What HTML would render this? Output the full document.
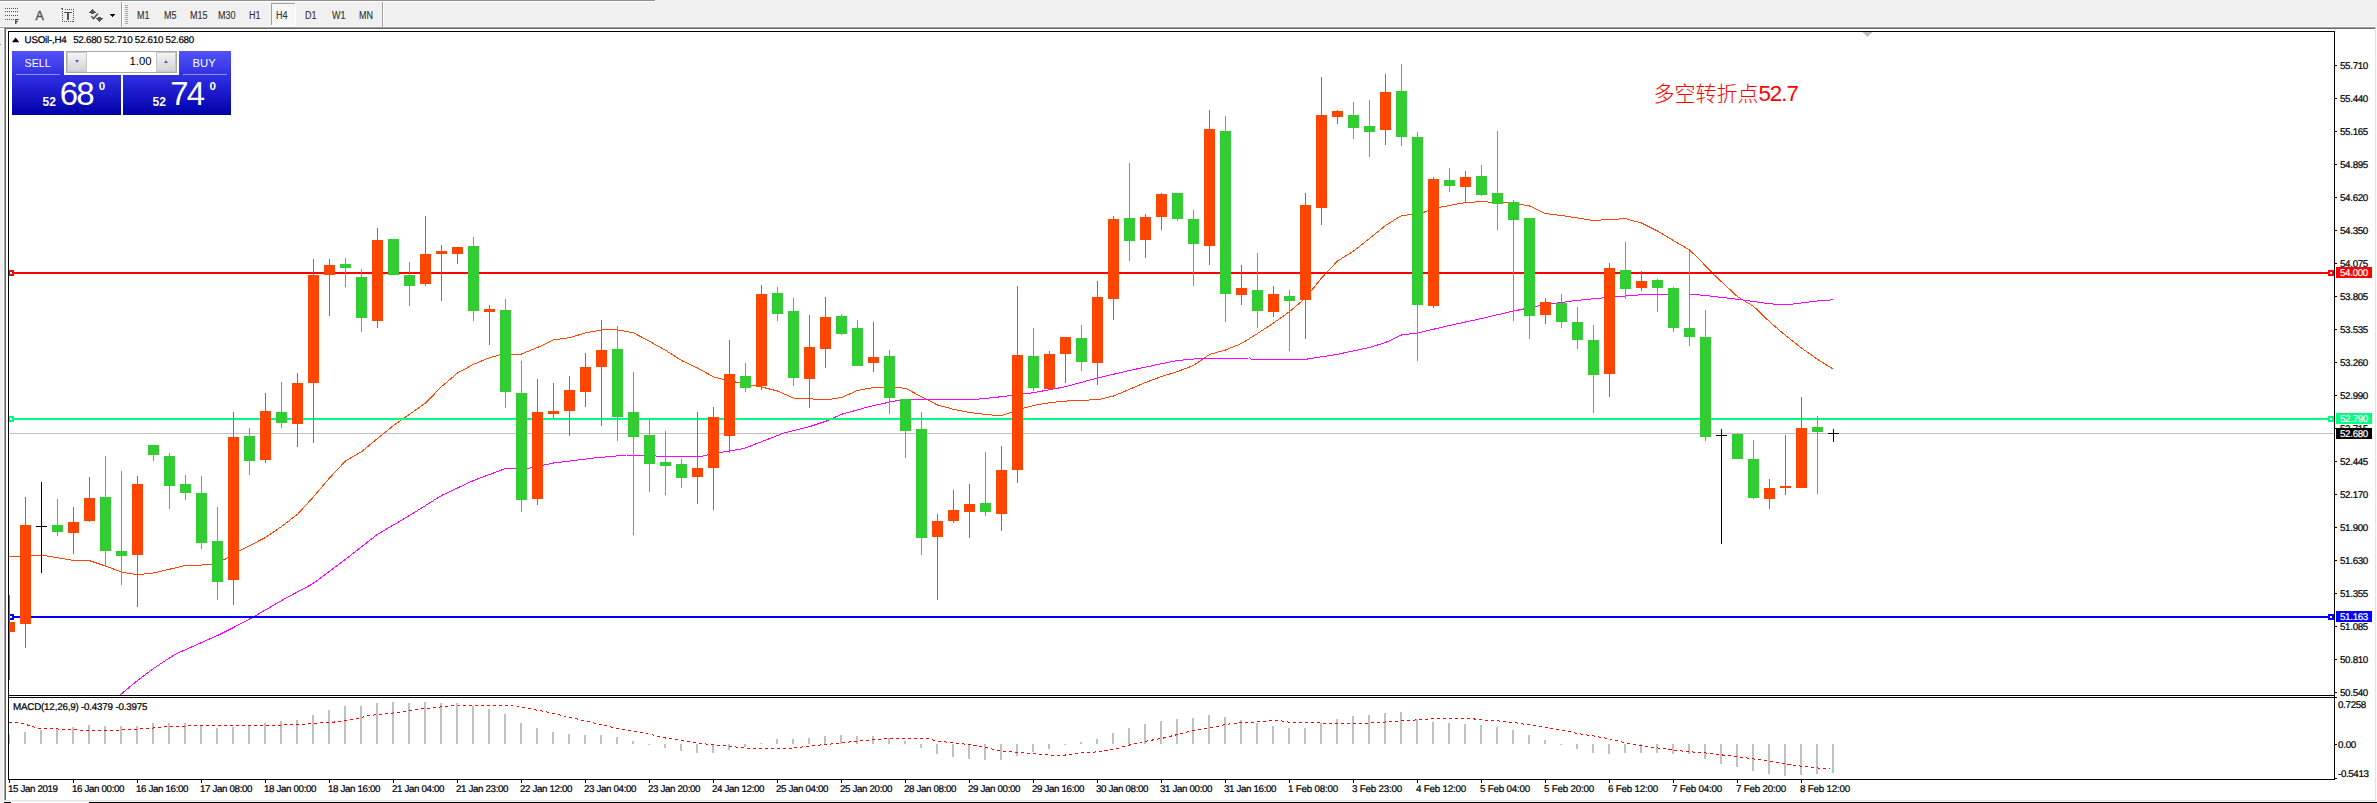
<!DOCTYPE html>
<html lang="zh">
<head>
<meta charset="utf-8">
<title>USOil-,H4</title>
<style>
html,body{margin:0;padding:0;background:#fff;}
body{width:2377px;height:803px;overflow:hidden;position:relative;font-family:"Liberation Sans",sans-serif;}
#wrap{position:absolute;left:0;top:0;width:2377px;height:803px;overflow:hidden;}
.tb{position:absolute;top:0;left:0;height:26px;font-size:10px;color:#333;-webkit-text-stroke:0.12px #333;}
.tb span{position:absolute;top:9.75px;transform:scaleX(0.9);transform-origin:0 0;line-height:12px;white-space:nowrap;}
.panel{position:absolute;left:12px;top:51px;width:219px;height:64px;color:#fff;}
.blk{position:absolute;background:linear-gradient(#5252f8,#2a2ade 45%,#0000a8);}
.big{position:absolute;font-size:33px;line-height:33px;letter-spacing:-1.9px;white-space:nowrap;}
.sm{position:absolute;font-size:12px;font-weight:bold;line-height:12px;}
.sup{position:absolute;font-size:11.6px;font-weight:bold;line-height:11px;}
.lbl{position:absolute;font-size:11.3px;line-height:12px;}
</style>
</head>
<body>
<div id="wrap">
<svg width="2377" height="803" viewBox="0 0 2377 803" shape-rendering="crispEdges" style="position:absolute;left:0;top:0"><rect x="0" y="0" width="2377" height="803" fill="#f0f0f0"/>
<rect x="0" y="0" width="655" height="1" fill="#8f8f8f"/>
<rect x="655" y="0" width="1" height="1" fill="#ffffff"/>
<rect x="0" y="26" width="2377" height="1" fill="#f5f5f5"/>
<rect x="0" y="27" width="2376" height="1" fill="#a0a0a0"/>
<rect x="0" y="28" width="4" height="1" fill="#ffffff"/>
<rect x="4" y="28" width="2371" height="1" fill="#696969"/>
<rect x="3" y="29" width="1" height="774" fill="#f8f8f8"/>
<rect x="6" y="29" width="2369" height="771" fill="#ffffff"/>
<rect x="4" y="28" width="1" height="772" fill="#a0a0a0"/>
<rect x="5" y="28" width="1" height="772" fill="#696969"/>
<rect x="2375" y="28" width="1" height="774" fill="#e3e3e3"/>
<rect x="2376" y="28" width="1" height="775" fill="#fafafa"/>
<rect x="4" y="800" width="2372" height="1" fill="#e3e3e3"/>
<rect x="0" y="801" width="2377" height="1" fill="#f4f4f4"/>
<rect x="4" y="802" width="7" height="1" fill="#000"/>
<rect x="11" y="802" width="78" height="1" fill="#fff"/>
<rect x="89" y="802" width="2288" height="1" fill="#000"/>
<rect x="0" y="44" width="1" height="1" fill="#909090"/>
<rect x="0" y="1" width="656" height="1" fill="#ffffff"/>
<rect x="5" y="8" width="1" height="1" fill="#555555"/>
<rect x="7" y="8" width="1" height="1" fill="#555555"/>
<rect x="9" y="8" width="1" height="1" fill="#555555"/>
<rect x="11" y="8" width="1" height="1" fill="#555555"/>
<rect x="13" y="8" width="1" height="1" fill="#555555"/>
<rect x="15" y="8" width="1" height="1" fill="#555555"/>
<rect x="17" y="8" width="1" height="1" fill="#555555"/>
<rect x="5" y="11" width="1" height="1" fill="#555555"/>
<rect x="7" y="11" width="1" height="1" fill="#555555"/>
<rect x="9" y="11" width="1" height="1" fill="#555555"/>
<rect x="11" y="11" width="1" height="1" fill="#555555"/>
<rect x="13" y="11" width="1" height="1" fill="#555555"/>
<rect x="15" y="11" width="1" height="1" fill="#555555"/>
<rect x="17" y="11" width="1" height="1" fill="#555555"/>
<rect x="5" y="15" width="1" height="1" fill="#555555"/>
<rect x="7" y="15" width="1" height="1" fill="#555555"/>
<rect x="9" y="15" width="1" height="1" fill="#555555"/>
<rect x="11" y="15" width="1" height="1" fill="#555555"/>
<rect x="13" y="15" width="1" height="1" fill="#555555"/>
<rect x="15" y="15" width="1" height="1" fill="#555555"/>
<rect x="17" y="15" width="1" height="1" fill="#555555"/>
<rect x="5" y="19" width="1" height="1" fill="#555555"/>
<rect x="7" y="19" width="1" height="1" fill="#555555"/>
<rect x="9" y="19" width="1" height="1" fill="#555555"/>
<rect x="11" y="19" width="1" height="1" fill="#555555"/>
<rect x="13" y="19" width="1" height="1" fill="#555555"/>
<rect x="15" y="19" width="1" height="5" fill="#555555"/>
<rect x="16" y="19" width="1" height="5" fill="#909090"/>
<rect x="15" y="19" width="4" height="1" fill="#555555"/>
<rect x="15" y="21" width="3" height="1" fill="#555555"/>
<text x="35.6" y="20" font-size="12.4" fill="#555" stroke="#555" stroke-width="0.45" font-family='"Liberation Sans", sans-serif' shape-rendering="auto">A</text>
<rect x="65" y="9" width="1" height="1" fill="#555555"/>
<rect x="67" y="9" width="1" height="1" fill="#555555"/>
<rect x="69" y="9" width="1" height="1" fill="#555555"/>
<rect x="71" y="9" width="1" height="1" fill="#555555"/>
<rect x="73" y="9" width="1" height="1" fill="#555555"/>
<rect x="61" y="8" width="2" height="1" fill="#555555"/>
<rect x="62" y="9" width="1" height="1" fill="#555555"/>
<rect x="62" y="11" width="1" height="1" fill="#555555"/>
<rect x="73" y="11" width="1" height="1" fill="#555555"/>
<rect x="62" y="13" width="1" height="1" fill="#555555"/>
<rect x="73" y="13" width="1" height="1" fill="#555555"/>
<rect x="62" y="15" width="1" height="1" fill="#555555"/>
<rect x="73" y="15" width="1" height="1" fill="#555555"/>
<rect x="62" y="17" width="1" height="1" fill="#555555"/>
<rect x="73" y="17" width="1" height="1" fill="#555555"/>
<rect x="62" y="19" width="1" height="1" fill="#555555"/>
<rect x="73" y="19" width="1" height="1" fill="#555555"/>
<rect x="62" y="21" width="1" height="1" fill="#555555"/>
<rect x="73" y="21" width="1" height="1" fill="#555555"/>
<rect x="62" y="21" width="1" height="1" fill="#555555"/>
<rect x="64" y="21" width="1" height="1" fill="#555555"/>
<rect x="66" y="21" width="1" height="1" fill="#555555"/>
<rect x="68" y="21" width="1" height="1" fill="#555555"/>
<rect x="70" y="21" width="1" height="1" fill="#555555"/>
<rect x="72" y="21" width="1" height="1" fill="#555555"/>
<rect x="64" y="12" width="8" height="1" fill="#555555"/>
<rect x="67" y="12" width="2" height="8" fill="#555555"/>
<rect x="92" y="9" width="1" height="1" fill="#555555"/>
<rect x="91" y="10" width="3" height="1" fill="#555555"/>
<rect x="90" y="11" width="5" height="1" fill="#555555"/>
<rect x="89" y="12" width="7" height="1" fill="#555555"/>
<rect x="91" y="13" width="3" height="1" fill="#555555"/>
<rect x="98" y="17" width="3" height="1" fill="#555555"/>
<rect x="96" y="18" width="7" height="1" fill="#555555"/>
<rect x="97" y="19" width="5" height="1" fill="#555555"/>
<rect x="98" y="20" width="3" height="1" fill="#555555"/>
<rect x="99" y="21" width="1" height="1" fill="#555555"/>
<polyline points="91.2,16.2 93.6,18.6 98,13.4" fill="none" stroke="#555" stroke-width="1.6" shape-rendering="auto"/>
<rect x="110" y="14" width="5" height="1" fill="#000"/>
<rect x="111" y="15" width="3" height="1" fill="#000"/>
<rect x="112" y="16" width="1" height="1" fill="#000"/>
<rect x="121" y="2" width="1" height="25" fill="#a0a0a0"/>
<rect x="122" y="2" width="1" height="25" fill="#ffffff"/>
<rect x="125" y="5" width="3" height="1" fill="#a8a8a8"/>
<rect x="125" y="7" width="3" height="1" fill="#a8a8a8"/>
<rect x="125" y="9" width="3" height="1" fill="#a8a8a8"/>
<rect x="125" y="11" width="3" height="1" fill="#a8a8a8"/>
<rect x="125" y="13" width="3" height="1" fill="#a8a8a8"/>
<rect x="125" y="15" width="3" height="1" fill="#a8a8a8"/>
<rect x="125" y="17" width="3" height="1" fill="#a8a8a8"/>
<rect x="125" y="19" width="3" height="1" fill="#a8a8a8"/>
<rect x="125" y="21" width="3" height="1" fill="#a8a8a8"/>
<rect x="125" y="23" width="3" height="1" fill="#a8a8a8"/>
<rect x="382" y="2" width="1" height="25" fill="#a0a0a0"/>
<rect x="383" y="2" width="1" height="25" fill="#ffffff"/>
<defs><pattern id="chk" width="2" height="2" patternUnits="userSpaceOnUse"><rect width="2" height="2" fill="#f0f0f0"/><rect width="1" height="1" fill="#fff"/><rect x="1" y="1" width="1" height="1" fill="#fff"/></pattern></defs>
<rect x="271" y="3" width="25" height="22" fill="url(#chk)"/>
<rect x="271" y="3" width="25" height="1" fill="#a0a0a0"/>
<rect x="271" y="3" width="1" height="22" fill="#a0a0a0"/>
<rect x="295" y="3" width="1" height="23" fill="#ffffff"/>
<rect x="271" y="25" width="25" height="1" fill="#ffffff"/>
<defs><clipPath id="cm"><rect x="9" y="32" width="2325" height="663"/></clipPath><clipPath id="cd"><rect x="9" y="698" width="2325" height="81"/></clipPath></defs>
<g clip-path="url(#cm)">
<rect x="9" y="433" width="2325" height="1" fill="#c0c0c0"/>
<g transform="translate(0,0.5)">
<polyline points="9.0,556.2 41.5,554.5 73.5,560.0 89.5,560.2 105.5,565.5 121.5,571.5 137.5,574.2 153.5,572.5 185.5,565.0 212.5,564.2 225.0,558.8 240.0,550.0 265.5,537.0 281.5,526.0 297.5,513.8 313.5,496.2 329.5,477.5 345.5,460.5 361.5,451.2 377.5,438.0 393.5,425.0 409.5,413.8 425.5,402.5 441.5,386.2 457.5,372.5 473.5,363.8 489.5,357.2 500.0,354.3 505.5,353.5 521.5,353.5 537.5,347.0 553.5,339.4 569.5,337.2 585.5,332.4 601.5,329.4 617.5,329.4 633.5,332.3 649.5,340.8 665.5,349.7 681.5,360.0 697.5,367.5 713.5,376.3 729.5,380.3 745.5,383.5 761.5,386.5 777.5,390.5 793.5,397.5 809.5,398.2 825.5,399.5 841.5,397.0 857.5,390.0 873.5,387.0 889.5,386.5 905.5,387.8 921.5,396.2 937.5,404.5 953.5,408.8 969.5,412.0 985.5,414.0 1001.5,415.2 1017.5,409.4 1033.5,405.0 1049.5,402.2 1065.5,400.6 1081.5,399.6 1097.5,399.4 1113.5,395.5 1129.5,388.8 1145.5,382.0 1161.5,376.0 1177.5,371.0 1193.5,365.0 1209.5,354.0 1225.5,349.5 1241.5,343.0 1257.5,333.0 1273.5,322.5 1289.5,311.2 1305.5,297.5 1321.5,277.5 1337.5,260.5 1353.5,250.6 1369.5,238.0 1385.5,225.0 1401.5,215.0 1410.0,214.2 1417.5,214.2 1433.5,208.0 1449.5,205.0 1465.5,202.0 1481.5,201.2 1497.5,202.0 1513.5,202.5 1529.5,205.5 1545.5,213.1 1561.5,215.0 1577.5,217.5 1593.5,220.0 1609.5,219.0 1625.5,218.2 1641.5,222.5 1657.5,230.5 1672.5,239.5 1689.5,249.5 1697.5,257.0 1713.5,273.8 1737.5,296.2 1753.5,305.8 1769.5,321.2 1785.5,335.0 1801.5,347.5 1817.5,358.8 1832.5,368.2" fill="none" stroke="#FF4500" stroke-width="1"/>
<polyline points="119.5,695.0 137.5,680.0 153.5,668.0 175.0,653.8 195.0,645.0 217.5,635.0 233.5,627.0 252.5,617.0 281.5,600.0 312.5,583.4 345.5,558.8 377.5,533.8 409.5,515.0 441.5,495.0 473.5,480.0 505.5,468.0 527.5,468.0 553.5,462.5 594.0,457.5 626.5,454.5 644.0,454.5 659.0,455.8 699.0,456.5 713.5,453.0 744.0,448.0 761.5,441.2 784.0,432.5 809.5,426.2 826.5,420.5 841.5,413.8 873.5,405.0 901.5,399.2 976.5,398.8 1001.5,396.2 1033.5,392.2 1065.5,386.2 1097.5,377.5 1129.5,370.0 1161.5,363.2 1177.5,360.0 1200.0,358.0 1250.0,357.5 1251.0,358.5 1307.5,358.5 1337.5,353.8 1369.5,347.0 1385.5,342.0 1401.5,334.5 1417.5,332.5 1449.5,325.0 1481.5,318.0 1513.5,310.5 1545.5,304.1 1577.5,299.8 1609.5,296.8 1641.5,294.2 1673.5,293.5 1689.5,293.5 1705.5,295.0 1737.5,298.8 1769.5,303.2 1785.5,304.5 1801.5,302.5 1817.5,300.5 1833.5,299.2" fill="none" stroke="#FF00FF" stroke-width="1"/>
</g>
</g>
<rect x="9" y="272" width="2325" height="2" fill="#FF0000"/>
<rect x="8" y="270" width="6" height="6" fill="#FF0000"/>
<rect x="10" y="272" width="2" height="2" fill="#fff"/>
<rect x="2328" y="270" width="6" height="6" fill="#FF0000"/>
<rect x="2330" y="272" width="2" height="2" fill="#fff"/>
<rect x="9" y="418" width="2325" height="2" fill="#00FF7F"/>
<rect x="8" y="416" width="6" height="6" fill="#00FF7F"/>
<rect x="10" y="418" width="2" height="2" fill="#fff"/>
<rect x="2328" y="416" width="6" height="6" fill="#00FF7F"/>
<rect x="2330" y="418" width="2" height="2" fill="#fff"/>
<rect x="9" y="616" width="2325" height="2" fill="#0000FF"/>
<rect x="8" y="614" width="6" height="6" fill="#0000FF"/>
<rect x="10" y="616" width="2" height="2" fill="#fff"/>
<rect x="2328" y="614" width="6" height="6" fill="#0000FF"/>
<rect x="2330" y="616" width="2" height="2" fill="#fff"/>
<g clip-path="url(#cm)">
<rect x="9" y="595" width="1" height="85" fill="#FF4500"/>
<rect x="4" y="622" width="11" height="10" fill="#FF4500"/>
<rect x="25" y="497" width="1" height="151" fill="#FF4500"/>
<rect x="20" y="525" width="11" height="99" fill="#FF4500"/>
<rect x="41" y="482" width="1" height="91" fill="#000"/>
<rect x="36" y="526" width="11" height="1" fill="#000"/>
<rect x="57" y="499" width="1" height="37" fill="#32CD32"/>
<rect x="52" y="525" width="11" height="7" fill="#32CD32"/>
<rect x="73" y="507" width="1" height="47" fill="#FF4500"/>
<rect x="68" y="522" width="11" height="11" fill="#FF4500"/>
<rect x="89" y="477" width="1" height="45" fill="#FF4500"/>
<rect x="84" y="498" width="11" height="23" fill="#FF4500"/>
<rect x="105" y="456" width="1" height="111" fill="#32CD32"/>
<rect x="100" y="497" width="11" height="54" fill="#32CD32"/>
<rect x="121" y="471" width="1" height="114" fill="#32CD32"/>
<rect x="116" y="551" width="11" height="5" fill="#32CD32"/>
<rect x="137" y="476" width="1" height="131" fill="#FF4500"/>
<rect x="132" y="484" width="11" height="71" fill="#FF4500"/>
<rect x="153" y="445" width="1" height="16" fill="#32CD32"/>
<rect x="148" y="445" width="11" height="10" fill="#32CD32"/>
<rect x="169" y="453" width="1" height="56" fill="#32CD32"/>
<rect x="164" y="456" width="11" height="30" fill="#32CD32"/>
<rect x="185" y="475" width="1" height="25" fill="#32CD32"/>
<rect x="180" y="484" width="11" height="9" fill="#32CD32"/>
<rect x="201" y="476" width="1" height="73" fill="#32CD32"/>
<rect x="196" y="493" width="11" height="50" fill="#32CD32"/>
<rect x="217" y="507" width="1" height="93" fill="#32CD32"/>
<rect x="212" y="541" width="11" height="41" fill="#32CD32"/>
<rect x="233" y="412" width="1" height="193" fill="#FF4500"/>
<rect x="228" y="437" width="11" height="143" fill="#FF4500"/>
<rect x="249" y="428" width="1" height="47" fill="#32CD32"/>
<rect x="244" y="436" width="11" height="25" fill="#32CD32"/>
<rect x="265" y="393" width="1" height="70" fill="#FF4500"/>
<rect x="260" y="411" width="11" height="49" fill="#FF4500"/>
<rect x="281" y="382" width="1" height="46" fill="#32CD32"/>
<rect x="276" y="412" width="11" height="11" fill="#32CD32"/>
<rect x="297" y="373" width="1" height="74" fill="#FF4500"/>
<rect x="292" y="383" width="11" height="41" fill="#FF4500"/>
<rect x="313" y="259" width="1" height="184" fill="#FF4500"/>
<rect x="308" y="275" width="11" height="108" fill="#FF4500"/>
<rect x="329" y="259" width="1" height="57" fill="#FF4500"/>
<rect x="324" y="265" width="11" height="10" fill="#FF4500"/>
<rect x="345" y="258" width="1" height="29" fill="#32CD32"/>
<rect x="340" y="264" width="11" height="4" fill="#32CD32"/>
<rect x="361" y="269" width="1" height="63" fill="#32CD32"/>
<rect x="356" y="277" width="11" height="41" fill="#32CD32"/>
<rect x="377" y="228" width="1" height="100" fill="#FF4500"/>
<rect x="372" y="240" width="11" height="81" fill="#FF4500"/>
<rect x="393" y="239" width="1" height="36" fill="#32CD32"/>
<rect x="388" y="239" width="11" height="36" fill="#32CD32"/>
<rect x="409" y="262" width="1" height="44" fill="#32CD32"/>
<rect x="404" y="275" width="11" height="11" fill="#32CD32"/>
<rect x="425" y="216" width="1" height="70" fill="#FF4500"/>
<rect x="420" y="254" width="11" height="30" fill="#FF4500"/>
<rect x="441" y="245" width="1" height="56" fill="#FF4500"/>
<rect x="436" y="251" width="11" height="3" fill="#FF4500"/>
<rect x="457" y="247" width="1" height="17" fill="#FF4500"/>
<rect x="452" y="247" width="11" height="7" fill="#FF4500"/>
<rect x="473" y="237" width="1" height="84" fill="#32CD32"/>
<rect x="468" y="246" width="11" height="65" fill="#32CD32"/>
<rect x="489" y="305" width="1" height="40" fill="#FF4500"/>
<rect x="484" y="309" width="11" height="3" fill="#FF4500"/>
<rect x="505" y="299" width="1" height="109" fill="#32CD32"/>
<rect x="500" y="310" width="11" height="82" fill="#32CD32"/>
<rect x="521" y="361" width="1" height="151" fill="#32CD32"/>
<rect x="516" y="393" width="11" height="107" fill="#32CD32"/>
<rect x="537" y="379" width="1" height="126" fill="#FF4500"/>
<rect x="532" y="412" width="11" height="87" fill="#FF4500"/>
<rect x="553" y="383" width="1" height="35" fill="#FF4500"/>
<rect x="548" y="411" width="11" height="3" fill="#FF4500"/>
<rect x="569" y="376" width="1" height="60" fill="#FF4500"/>
<rect x="564" y="390" width="11" height="21" fill="#FF4500"/>
<rect x="585" y="353" width="1" height="54" fill="#FF4500"/>
<rect x="580" y="367" width="11" height="25" fill="#FF4500"/>
<rect x="601" y="320" width="1" height="106" fill="#FF4500"/>
<rect x="596" y="350" width="11" height="17" fill="#FF4500"/>
<rect x="617" y="326" width="1" height="115" fill="#32CD32"/>
<rect x="612" y="349" width="11" height="68" fill="#32CD32"/>
<rect x="633" y="372" width="1" height="163" fill="#32CD32"/>
<rect x="628" y="412" width="11" height="25" fill="#32CD32"/>
<rect x="649" y="420" width="1" height="72" fill="#32CD32"/>
<rect x="644" y="435" width="11" height="29" fill="#32CD32"/>
<rect x="665" y="431" width="1" height="64" fill="#32CD32"/>
<rect x="660" y="462" width="11" height="4" fill="#32CD32"/>
<rect x="681" y="459" width="1" height="29" fill="#32CD32"/>
<rect x="676" y="464" width="11" height="14" fill="#32CD32"/>
<rect x="697" y="412" width="1" height="92" fill="#FF4500"/>
<rect x="692" y="468" width="11" height="9" fill="#FF4500"/>
<rect x="713" y="407" width="1" height="103" fill="#FF4500"/>
<rect x="708" y="417" width="11" height="51" fill="#FF4500"/>
<rect x="729" y="340" width="1" height="113" fill="#FF4500"/>
<rect x="724" y="374" width="11" height="62" fill="#FF4500"/>
<rect x="745" y="363" width="1" height="29" fill="#32CD32"/>
<rect x="740" y="376" width="11" height="12" fill="#32CD32"/>
<rect x="761" y="285" width="1" height="105" fill="#FF4500"/>
<rect x="756" y="294" width="11" height="92" fill="#FF4500"/>
<rect x="777" y="287" width="1" height="34" fill="#32CD32"/>
<rect x="772" y="293" width="11" height="21" fill="#32CD32"/>
<rect x="793" y="298" width="1" height="88" fill="#32CD32"/>
<rect x="788" y="311" width="11" height="67" fill="#32CD32"/>
<rect x="809" y="315" width="1" height="93" fill="#FF4500"/>
<rect x="804" y="347" width="11" height="32" fill="#FF4500"/>
<rect x="825" y="297" width="1" height="71" fill="#FF4500"/>
<rect x="820" y="317" width="11" height="32" fill="#FF4500"/>
<rect x="841" y="314" width="1" height="21" fill="#32CD32"/>
<rect x="836" y="316" width="11" height="18" fill="#32CD32"/>
<rect x="857" y="320" width="1" height="46" fill="#32CD32"/>
<rect x="852" y="328" width="11" height="38" fill="#32CD32"/>
<rect x="873" y="322" width="1" height="50" fill="#FF4500"/>
<rect x="868" y="357" width="11" height="6" fill="#FF4500"/>
<rect x="889" y="350" width="1" height="64" fill="#32CD32"/>
<rect x="884" y="356" width="11" height="42" fill="#32CD32"/>
<rect x="905" y="399" width="1" height="59" fill="#32CD32"/>
<rect x="900" y="399" width="11" height="32" fill="#32CD32"/>
<rect x="921" y="412" width="1" height="143" fill="#32CD32"/>
<rect x="916" y="429" width="11" height="109" fill="#32CD32"/>
<rect x="937" y="514" width="1" height="86" fill="#FF4500"/>
<rect x="932" y="521" width="11" height="16" fill="#FF4500"/>
<rect x="953" y="490" width="1" height="33" fill="#FF4500"/>
<rect x="948" y="510" width="11" height="11" fill="#FF4500"/>
<rect x="969" y="484" width="1" height="54" fill="#FF4500"/>
<rect x="964" y="504" width="11" height="8" fill="#FF4500"/>
<rect x="985" y="452" width="1" height="64" fill="#32CD32"/>
<rect x="980" y="503" width="11" height="9" fill="#32CD32"/>
<rect x="1001" y="446" width="1" height="85" fill="#FF4500"/>
<rect x="996" y="470" width="11" height="44" fill="#FF4500"/>
<rect x="1017" y="286" width="1" height="197" fill="#FF4500"/>
<rect x="1012" y="355" width="11" height="115" fill="#FF4500"/>
<rect x="1033" y="328" width="1" height="63" fill="#32CD32"/>
<rect x="1028" y="356" width="11" height="32" fill="#32CD32"/>
<rect x="1049" y="351" width="1" height="39" fill="#FF4500"/>
<rect x="1044" y="354" width="11" height="35" fill="#FF4500"/>
<rect x="1065" y="337" width="1" height="46" fill="#FF4500"/>
<rect x="1060" y="337" width="11" height="17" fill="#FF4500"/>
<rect x="1081" y="325" width="1" height="46" fill="#32CD32"/>
<rect x="1076" y="338" width="11" height="24" fill="#32CD32"/>
<rect x="1097" y="281" width="1" height="104" fill="#FF4500"/>
<rect x="1092" y="297" width="11" height="66" fill="#FF4500"/>
<rect x="1113" y="216" width="1" height="104" fill="#FF4500"/>
<rect x="1108" y="219" width="11" height="80" fill="#FF4500"/>
<rect x="1129" y="163" width="1" height="98" fill="#32CD32"/>
<rect x="1124" y="218" width="11" height="23" fill="#32CD32"/>
<rect x="1145" y="214" width="1" height="44" fill="#FF4500"/>
<rect x="1140" y="217" width="11" height="23" fill="#FF4500"/>
<rect x="1161" y="193" width="1" height="37" fill="#FF4500"/>
<rect x="1156" y="194" width="11" height="23" fill="#FF4500"/>
<rect x="1177" y="193" width="1" height="28" fill="#32CD32"/>
<rect x="1172" y="193" width="11" height="26" fill="#32CD32"/>
<rect x="1193" y="210" width="1" height="76" fill="#32CD32"/>
<rect x="1188" y="219" width="11" height="25" fill="#32CD32"/>
<rect x="1209" y="110" width="1" height="155" fill="#FF4500"/>
<rect x="1204" y="129" width="11" height="117" fill="#FF4500"/>
<rect x="1225" y="116" width="1" height="206" fill="#32CD32"/>
<rect x="1220" y="131" width="11" height="163" fill="#32CD32"/>
<rect x="1241" y="265" width="1" height="40" fill="#FF4500"/>
<rect x="1236" y="288" width="11" height="7" fill="#FF4500"/>
<rect x="1257" y="253" width="1" height="75" fill="#32CD32"/>
<rect x="1252" y="290" width="11" height="21" fill="#32CD32"/>
<rect x="1273" y="286" width="1" height="31" fill="#FF4500"/>
<rect x="1268" y="294" width="11" height="18" fill="#FF4500"/>
<rect x="1289" y="290" width="1" height="61" fill="#32CD32"/>
<rect x="1284" y="296" width="11" height="5" fill="#32CD32"/>
<rect x="1305" y="193" width="1" height="146" fill="#FF4500"/>
<rect x="1300" y="205" width="11" height="95" fill="#FF4500"/>
<rect x="1321" y="77" width="1" height="148" fill="#FF4500"/>
<rect x="1316" y="115" width="11" height="93" fill="#FF4500"/>
<rect x="1337" y="110" width="1" height="14" fill="#FF4500"/>
<rect x="1332" y="111" width="11" height="6" fill="#FF4500"/>
<rect x="1353" y="102" width="1" height="37" fill="#32CD32"/>
<rect x="1348" y="115" width="11" height="13" fill="#32CD32"/>
<rect x="1369" y="100" width="1" height="57" fill="#32CD32"/>
<rect x="1364" y="126" width="11" height="6" fill="#32CD32"/>
<rect x="1385" y="74" width="1" height="71" fill="#FF4500"/>
<rect x="1380" y="92" width="11" height="38" fill="#FF4500"/>
<rect x="1401" y="64" width="1" height="82" fill="#32CD32"/>
<rect x="1396" y="91" width="11" height="46" fill="#32CD32"/>
<rect x="1417" y="132" width="1" height="229" fill="#32CD32"/>
<rect x="1412" y="137" width="11" height="168" fill="#32CD32"/>
<rect x="1433" y="177" width="1" height="131" fill="#FF4500"/>
<rect x="1428" y="179" width="11" height="127" fill="#FF4500"/>
<rect x="1449" y="168" width="1" height="24" fill="#32CD32"/>
<rect x="1444" y="180" width="11" height="6" fill="#32CD32"/>
<rect x="1465" y="171" width="1" height="31" fill="#FF4500"/>
<rect x="1460" y="177" width="11" height="10" fill="#FF4500"/>
<rect x="1481" y="165" width="1" height="31" fill="#32CD32"/>
<rect x="1476" y="176" width="11" height="19" fill="#32CD32"/>
<rect x="1497" y="131" width="1" height="99" fill="#32CD32"/>
<rect x="1492" y="193" width="11" height="11" fill="#32CD32"/>
<rect x="1513" y="200" width="1" height="121" fill="#32CD32"/>
<rect x="1508" y="202" width="11" height="18" fill="#32CD32"/>
<rect x="1529" y="218" width="1" height="121" fill="#32CD32"/>
<rect x="1524" y="218" width="11" height="98" fill="#32CD32"/>
<rect x="1545" y="298" width="1" height="26" fill="#FF4500"/>
<rect x="1540" y="302" width="11" height="13" fill="#FF4500"/>
<rect x="1561" y="294" width="1" height="34" fill="#32CD32"/>
<rect x="1556" y="303" width="11" height="19" fill="#32CD32"/>
<rect x="1577" y="307" width="1" height="42" fill="#32CD32"/>
<rect x="1572" y="322" width="11" height="18" fill="#32CD32"/>
<rect x="1593" y="325" width="1" height="88" fill="#32CD32"/>
<rect x="1588" y="340" width="11" height="35" fill="#32CD32"/>
<rect x="1609" y="263" width="1" height="134" fill="#FF4500"/>
<rect x="1604" y="268" width="11" height="106" fill="#FF4500"/>
<rect x="1625" y="242" width="1" height="57" fill="#32CD32"/>
<rect x="1620" y="270" width="11" height="19" fill="#32CD32"/>
<rect x="1641" y="271" width="1" height="20" fill="#FF4500"/>
<rect x="1636" y="281" width="11" height="7" fill="#FF4500"/>
<rect x="1657" y="279" width="1" height="33" fill="#32CD32"/>
<rect x="1652" y="280" width="11" height="8" fill="#32CD32"/>
<rect x="1673" y="287" width="1" height="45" fill="#32CD32"/>
<rect x="1668" y="288" width="11" height="40" fill="#32CD32"/>
<rect x="1689" y="251" width="1" height="95" fill="#32CD32"/>
<rect x="1684" y="328" width="11" height="9" fill="#32CD32"/>
<rect x="1705" y="310" width="1" height="131" fill="#32CD32"/>
<rect x="1700" y="337" width="11" height="100" fill="#32CD32"/>
<rect x="1721" y="429" width="1" height="115" fill="#000"/>
<rect x="1716" y="435" width="11" height="1" fill="#000"/>
<rect x="1737" y="433" width="1" height="26" fill="#32CD32"/>
<rect x="1732" y="434" width="11" height="25" fill="#32CD32"/>
<rect x="1753" y="440" width="1" height="59" fill="#32CD32"/>
<rect x="1748" y="459" width="11" height="39" fill="#32CD32"/>
<rect x="1769" y="479" width="1" height="30" fill="#FF4500"/>
<rect x="1764" y="488" width="11" height="11" fill="#FF4500"/>
<rect x="1785" y="435" width="1" height="60" fill="#FF4500"/>
<rect x="1780" y="486" width="11" height="2" fill="#FF4500"/>
<rect x="1801" y="397" width="1" height="91" fill="#FF4500"/>
<rect x="1796" y="428" width="11" height="60" fill="#FF4500"/>
<rect x="1817" y="416" width="1" height="78" fill="#32CD32"/>
<rect x="1812" y="427" width="11" height="5" fill="#32CD32"/>
<rect x="1833" y="429" width="1" height="13" fill="#000"/>
<rect x="1828" y="433" width="11" height="1" fill="#000"/>
</g>
<g clip-path="url(#cd)">
<rect x="8" y="734" width="2" height="10" fill="#c0c0c0"/>
<rect x="24" y="732" width="2" height="12" fill="#c0c0c0"/>
<rect x="40" y="730" width="2" height="14" fill="#c0c0c0"/>
<rect x="56" y="728" width="2" height="16" fill="#c0c0c0"/>
<rect x="72" y="727" width="2" height="17" fill="#c0c0c0"/>
<rect x="88" y="725" width="2" height="19" fill="#c0c0c0"/>
<rect x="104" y="726" width="2" height="18" fill="#c0c0c0"/>
<rect x="120" y="726" width="2" height="18" fill="#c0c0c0"/>
<rect x="136" y="726" width="2" height="18" fill="#c0c0c0"/>
<rect x="152" y="723" width="2" height="21" fill="#c0c0c0"/>
<rect x="168" y="723" width="2" height="21" fill="#c0c0c0"/>
<rect x="184" y="723" width="2" height="21" fill="#c0c0c0"/>
<rect x="200" y="725" width="2" height="19" fill="#c0c0c0"/>
<rect x="216" y="728" width="2" height="16" fill="#c0c0c0"/>
<rect x="232" y="727" width="2" height="17" fill="#c0c0c0"/>
<rect x="248" y="725" width="2" height="19" fill="#c0c0c0"/>
<rect x="264" y="723" width="2" height="21" fill="#c0c0c0"/>
<rect x="280" y="721" width="2" height="23" fill="#c0c0c0"/>
<rect x="296" y="720" width="2" height="24" fill="#c0c0c0"/>
<rect x="312" y="715" width="2" height="29" fill="#c0c0c0"/>
<rect x="328" y="710" width="2" height="34" fill="#c0c0c0"/>
<rect x="344" y="706" width="2" height="38" fill="#c0c0c0"/>
<rect x="360" y="706" width="2" height="38" fill="#c0c0c0"/>
<rect x="376" y="703" width="2" height="41" fill="#c0c0c0"/>
<rect x="392" y="702" width="2" height="42" fill="#c0c0c0"/>
<rect x="408" y="703" width="2" height="41" fill="#c0c0c0"/>
<rect x="424" y="702" width="2" height="42" fill="#c0c0c0"/>
<rect x="440" y="703" width="2" height="41" fill="#c0c0c0"/>
<rect x="456" y="703" width="2" height="41" fill="#c0c0c0"/>
<rect x="472" y="706" width="2" height="38" fill="#c0c0c0"/>
<rect x="488" y="709" width="2" height="35" fill="#c0c0c0"/>
<rect x="504" y="714" width="2" height="30" fill="#c0c0c0"/>
<rect x="520" y="723" width="2" height="21" fill="#c0c0c0"/>
<rect x="536" y="728" width="2" height="16" fill="#c0c0c0"/>
<rect x="552" y="732" width="2" height="12" fill="#c0c0c0"/>
<rect x="568" y="734" width="2" height="10" fill="#c0c0c0"/>
<rect x="584" y="735" width="2" height="9" fill="#c0c0c0"/>
<rect x="600" y="735" width="2" height="9" fill="#c0c0c0"/>
<rect x="616" y="737" width="2" height="7" fill="#c0c0c0"/>
<rect x="632" y="741" width="2" height="3" fill="#c0c0c0"/>
<rect x="648" y="744" width="2" height="1" fill="#c0c0c0"/>
<rect x="664" y="744" width="2" height="4" fill="#c0c0c0"/>
<rect x="680" y="744" width="2" height="7" fill="#c0c0c0"/>
<rect x="696" y="744" width="2" height="9" fill="#c0c0c0"/>
<rect x="712" y="744" width="2" height="9" fill="#c0c0c0"/>
<rect x="728" y="744" width="2" height="6" fill="#c0c0c0"/>
<rect x="744" y="744" width="2" height="3" fill="#c0c0c0"/>
<rect x="760" y="743" width="2" height="1" fill="#c0c0c0"/>
<rect x="776" y="739" width="2" height="5" fill="#c0c0c0"/>
<rect x="792" y="739" width="2" height="5" fill="#c0c0c0"/>
<rect x="808" y="738" width="2" height="6" fill="#c0c0c0"/>
<rect x="824" y="736" width="2" height="8" fill="#c0c0c0"/>
<rect x="840" y="735" width="2" height="9" fill="#c0c0c0"/>
<rect x="856" y="736" width="2" height="8" fill="#c0c0c0"/>
<rect x="872" y="736" width="2" height="8" fill="#c0c0c0"/>
<rect x="888" y="738" width="2" height="6" fill="#c0c0c0"/>
<rect x="904" y="741" width="2" height="3" fill="#c0c0c0"/>
<rect x="920" y="744" width="2" height="4" fill="#c0c0c0"/>
<rect x="936" y="744" width="2" height="10" fill="#c0c0c0"/>
<rect x="952" y="744" width="2" height="13" fill="#c0c0c0"/>
<rect x="968" y="744" width="2" height="15" fill="#c0c0c0"/>
<rect x="984" y="744" width="2" height="16" fill="#c0c0c0"/>
<rect x="1000" y="744" width="2" height="16" fill="#c0c0c0"/>
<rect x="1016" y="744" width="2" height="12" fill="#c0c0c0"/>
<rect x="1032" y="744" width="2" height="8" fill="#c0c0c0"/>
<rect x="1048" y="744" width="2" height="5" fill="#c0c0c0"/>
<rect x="1064" y="744" width="2" height="1" fill="#c0c0c0"/>
<rect x="1080" y="742" width="2" height="2" fill="#c0c0c0"/>
<rect x="1096" y="739" width="2" height="5" fill="#c0c0c0"/>
<rect x="1112" y="733" width="2" height="11" fill="#c0c0c0"/>
<rect x="1128" y="728" width="2" height="16" fill="#c0c0c0"/>
<rect x="1144" y="724" width="2" height="20" fill="#c0c0c0"/>
<rect x="1160" y="721" width="2" height="23" fill="#c0c0c0"/>
<rect x="1176" y="719" width="2" height="25" fill="#c0c0c0"/>
<rect x="1192" y="718" width="2" height="26" fill="#c0c0c0"/>
<rect x="1208" y="715" width="2" height="29" fill="#c0c0c0"/>
<rect x="1224" y="717" width="2" height="27" fill="#c0c0c0"/>
<rect x="1240" y="720" width="2" height="24" fill="#c0c0c0"/>
<rect x="1256" y="723" width="2" height="21" fill="#c0c0c0"/>
<rect x="1272" y="726" width="2" height="18" fill="#c0c0c0"/>
<rect x="1288" y="728" width="2" height="16" fill="#c0c0c0"/>
<rect x="1304" y="728" width="2" height="16" fill="#c0c0c0"/>
<rect x="1320" y="723" width="2" height="21" fill="#c0c0c0"/>
<rect x="1336" y="719" width="2" height="25" fill="#c0c0c0"/>
<rect x="1352" y="716" width="2" height="28" fill="#c0c0c0"/>
<rect x="1368" y="715" width="2" height="29" fill="#c0c0c0"/>
<rect x="1384" y="713" width="2" height="31" fill="#c0c0c0"/>
<rect x="1400" y="712" width="2" height="32" fill="#c0c0c0"/>
<rect x="1416" y="719" width="2" height="25" fill="#c0c0c0"/>
<rect x="1432" y="722" width="2" height="22" fill="#c0c0c0"/>
<rect x="1448" y="723" width="2" height="21" fill="#c0c0c0"/>
<rect x="1464" y="724" width="2" height="20" fill="#c0c0c0"/>
<rect x="1480" y="725" width="2" height="19" fill="#c0c0c0"/>
<rect x="1496" y="727" width="2" height="17" fill="#c0c0c0"/>
<rect x="1512" y="730" width="2" height="14" fill="#c0c0c0"/>
<rect x="1528" y="735" width="2" height="9" fill="#c0c0c0"/>
<rect x="1544" y="740" width="2" height="4" fill="#c0c0c0"/>
<rect x="1560" y="744" width="2" height="1" fill="#c0c0c0"/>
<rect x="1576" y="744" width="2" height="5" fill="#c0c0c0"/>
<rect x="1592" y="744" width="2" height="9" fill="#c0c0c0"/>
<rect x="1608" y="744" width="2" height="10" fill="#c0c0c0"/>
<rect x="1624" y="744" width="2" height="9" fill="#c0c0c0"/>
<rect x="1640" y="744" width="2" height="9" fill="#c0c0c0"/>
<rect x="1656" y="744" width="2" height="9" fill="#c0c0c0"/>
<rect x="1672" y="744" width="2" height="10" fill="#c0c0c0"/>
<rect x="1688" y="744" width="2" height="10" fill="#c0c0c0"/>
<rect x="1704" y="744" width="2" height="15" fill="#c0c0c0"/>
<rect x="1720" y="744" width="2" height="20" fill="#c0c0c0"/>
<rect x="1736" y="744" width="2" height="23" fill="#c0c0c0"/>
<rect x="1752" y="744" width="2" height="27" fill="#c0c0c0"/>
<rect x="1768" y="744" width="2" height="30" fill="#c0c0c0"/>
<rect x="1784" y="744" width="2" height="32" fill="#c0c0c0"/>
<rect x="1800" y="744" width="2" height="31" fill="#c0c0c0"/>
<rect x="1816" y="744" width="2" height="30" fill="#c0c0c0"/>
<rect x="1832" y="744" width="2" height="29" fill="#c0c0c0"/>
<polyline points="9.0,722.0 22.5,723.5 37.5,728.0 57.5,729.0 89.5,730.5 121.5,730.0 137.5,729.2 153.5,728.0 169.5,726.2 201.5,725.8 250.0,725.8 265.5,725.5 297.5,724.5 313.5,723.5 337.5,721.8 353.5,719.2 369.5,715.5 393.5,713.0 409.5,710.5 425.5,708.5 441.5,706.8 457.5,705.0 507.5,705.0 525.0,708.0 550.0,712.5 570.0,717.5 594.0,723.0 617.5,728.5 644.0,733.0 665.5,738.0 697.5,743.0 713.5,744.8 745.5,748.0 794.0,748.0 809.5,746.0 825.5,744.5 841.5,743.0 857.5,741.0 873.5,739.8 884.0,738.8 929.0,739.0 937.5,741.0 953.5,743.0 969.5,744.5 985.5,747.5 1001.5,751.0 1017.5,752.5 1033.5,753.8 1049.5,755.0 1065.5,755.0 1081.5,753.0 1097.5,751.8 1113.5,749.5 1129.5,745.0 1145.5,741.2 1161.5,738.5 1177.5,734.5 1190.5,731.0 1209.5,728.0 1225.5,724.5 1241.5,722.5 1257.5,722.0 1270.5,720.8 1280.5,720.8 1289.5,722.2 1321.5,723.0 1369.5,723.0 1385.5,722.0 1401.5,721.0 1417.5,719.8 1433.5,718.8 1473.0,718.8 1481.5,720.0 1497.5,720.8 1513.5,722.5 1529.5,725.0 1545.5,727.2 1561.5,730.0 1577.5,733.5 1593.5,736.0 1609.5,738.8 1625.5,743.0 1641.5,745.5 1657.5,748.0 1673.5,750.0 1689.5,751.8 1705.5,752.9 1721.5,754.9 1737.5,756.7 1753.5,758.9 1769.5,760.9 1785.0,763.7 1801.0,766.2 1817.0,767.9 1830.0,769.0" fill="none" stroke="#FF0000" stroke-width="1" stroke-dasharray="3,3"/>
</g>
<rect x="1863" y="32" width="9" height="1" fill="#c0c0c0"/>
<rect x="1864" y="33" width="7" height="1" fill="#c0c0c0"/>
<rect x="1865" y="34" width="5" height="1" fill="#c0c0c0"/>
<rect x="1866" y="35" width="3" height="1" fill="#c0c0c0"/>
<rect x="1867" y="36" width="1" height="1" fill="#c0c0c0"/>
<rect x="8" y="31" width="2327" height="1" fill="#000"/>
<rect x="8" y="695" width="2327" height="1" fill="#000"/>
<rect x="8" y="697" width="2327" height="1" fill="#000"/>
<rect x="8" y="779" width="2327" height="1" fill="#000"/>
<rect x="8" y="31" width="1" height="749" fill="#000"/>
<rect x="2334" y="31" width="1" height="749" fill="#000"/>
<rect x="9" y="696" width="2325" height="1" fill="#fff"/>
<g font-family='"Liberation Sans", sans-serif' stroke-width="0.22" shape-rendering="auto" text-rendering="geometricPrecision">
<rect x="2335" y="65" width="2" height="1" fill="#000"/>
<text x="2340" y="69.01" font-size="9.8" fill="#000" stroke="#000" text-anchor="start" font-weight="normal" letter-spacing="-0.329">55.710</text>
<rect x="2335" y="98" width="2" height="1" fill="#000"/>
<text x="2340" y="102.01" font-size="9.8" fill="#000" stroke="#000" text-anchor="start" font-weight="normal" letter-spacing="-0.329">55.440</text>
<rect x="2335" y="131" width="2" height="1" fill="#000"/>
<text x="2340" y="135.01" font-size="9.8" fill="#000" stroke="#000" text-anchor="start" font-weight="normal" letter-spacing="-0.329">55.165</text>
<rect x="2335" y="164" width="2" height="1" fill="#000"/>
<text x="2340" y="168.01" font-size="9.8" fill="#000" stroke="#000" text-anchor="start" font-weight="normal" letter-spacing="-0.329">54.895</text>
<rect x="2335" y="197" width="2" height="1" fill="#000"/>
<text x="2340" y="201.01" font-size="9.8" fill="#000" stroke="#000" text-anchor="start" font-weight="normal" letter-spacing="-0.329">54.620</text>
<rect x="2335" y="230" width="2" height="1" fill="#000"/>
<text x="2340" y="234.01" font-size="9.8" fill="#000" stroke="#000" text-anchor="start" font-weight="normal" letter-spacing="-0.329">54.350</text>
<rect x="2335" y="263" width="2" height="1" fill="#000"/>
<text x="2340" y="267.01" font-size="9.8" fill="#000" stroke="#000" text-anchor="start" font-weight="normal" letter-spacing="-0.329">54.075</text>
<rect x="2335" y="296" width="2" height="1" fill="#000"/>
<text x="2340" y="300.01" font-size="9.8" fill="#000" stroke="#000" text-anchor="start" font-weight="normal" letter-spacing="-0.329">53.805</text>
<rect x="2335" y="329" width="2" height="1" fill="#000"/>
<text x="2340" y="333.01" font-size="9.8" fill="#000" stroke="#000" text-anchor="start" font-weight="normal" letter-spacing="-0.329">53.535</text>
<rect x="2335" y="362" width="2" height="1" fill="#000"/>
<text x="2340" y="366.01" font-size="9.8" fill="#000" stroke="#000" text-anchor="start" font-weight="normal" letter-spacing="-0.329">53.260</text>
<rect x="2335" y="395" width="2" height="1" fill="#000"/>
<text x="2340" y="399.01" font-size="9.8" fill="#000" stroke="#000" text-anchor="start" font-weight="normal" letter-spacing="-0.329">52.990</text>
<rect x="2335" y="428" width="2" height="1" fill="#000"/>
<text x="2340" y="432.01" font-size="9.8" fill="#000" stroke="#000" text-anchor="start" font-weight="normal" letter-spacing="-0.329">52.715</text>
<rect x="2335" y="461" width="2" height="1" fill="#000"/>
<text x="2340" y="465.01" font-size="9.8" fill="#000" stroke="#000" text-anchor="start" font-weight="normal" letter-spacing="-0.329">52.445</text>
<rect x="2335" y="494" width="2" height="1" fill="#000"/>
<text x="2340" y="498.01" font-size="9.8" fill="#000" stroke="#000" text-anchor="start" font-weight="normal" letter-spacing="-0.329">52.170</text>
<rect x="2335" y="527" width="2" height="1" fill="#000"/>
<text x="2340" y="531.01" font-size="9.8" fill="#000" stroke="#000" text-anchor="start" font-weight="normal" letter-spacing="-0.329">51.900</text>
<rect x="2335" y="560" width="2" height="1" fill="#000"/>
<text x="2340" y="564.01" font-size="9.8" fill="#000" stroke="#000" text-anchor="start" font-weight="normal" letter-spacing="-0.329">51.630</text>
<rect x="2335" y="593" width="2" height="1" fill="#000"/>
<text x="2340" y="597.01" font-size="9.8" fill="#000" stroke="#000" text-anchor="start" font-weight="normal" letter-spacing="-0.329">51.355</text>
<rect x="2335" y="626" width="2" height="1" fill="#000"/>
<text x="2340" y="630.01" font-size="9.8" fill="#000" stroke="#000" text-anchor="start" font-weight="normal" letter-spacing="-0.329">51.085</text>
<rect x="2335" y="659" width="2" height="1" fill="#000"/>
<text x="2340" y="663.01" font-size="9.8" fill="#000" stroke="#000" text-anchor="start" font-weight="normal" letter-spacing="-0.329">50.810</text>
<rect x="2335" y="692" width="2" height="1" fill="#000"/>
<text x="2340" y="696.01" font-size="9.8" fill="#000" stroke="#000" text-anchor="start" font-weight="normal" letter-spacing="-0.329">50.540</text>
<rect x="2335" y="697" width="2" height="1" fill="#000"/>
<rect x="2335" y="744" width="2" height="1" fill="#000"/>
<rect x="2335" y="778" width="2" height="1" fill="#000"/>
<text x="2338" y="708.01" font-size="9.8" fill="#000" stroke="#000" text-anchor="start" font-weight="normal" letter-spacing="-0.329">0.7258</text>
<text x="2338" y="748.01" font-size="9.8" fill="#000" stroke="#000" text-anchor="start" font-weight="normal" letter-spacing="-0.268">0.00</text>
<text x="2338" y="776.51" font-size="9.8" fill="#000" stroke="#000" text-anchor="start" font-weight="normal" letter-spacing="-0.377">-0.5413</text>
<rect x="2336" y="267" width="36" height="11" fill="#FF0000"/>
<text x="2340" y="276.01" font-size="9.8" fill="#fff" stroke="#fff" text-anchor="start" font-weight="normal" letter-spacing="-0.329">54.000</text>
<rect x="2336" y="413" width="36" height="11" fill="#00FF7F"/>
<text x="2340" y="422.01" font-size="9.8" fill="#fff" stroke="#fff" text-anchor="start" font-weight="normal" letter-spacing="-0.329">52.790</text>
<rect x="2336" y="428" width="36" height="11" fill="#000"/>
<text x="2340" y="437.01" font-size="9.8" fill="#fff" stroke="#fff" text-anchor="start" font-weight="normal" letter-spacing="-0.329">52.680</text>
<rect x="2336" y="611" width="36" height="11" fill="#0000FF"/>
<text x="2340" y="620.01" font-size="9.8" fill="#fff" stroke="#fff" text-anchor="start" font-weight="normal" letter-spacing="-0.329">51.163</text>
<rect x="9" y="780" width="1" height="3" fill="#000"/>
<text x="8" y="792.01" font-size="9.8" fill="#000" stroke="#000" text-anchor="start" font-weight="normal" letter-spacing="-0.392">15 Jan 2019</text>
<rect x="73" y="780" width="1" height="3" fill="#000"/>
<text x="72" y="792.01" font-size="9.8" fill="#000" stroke="#000" text-anchor="start" font-weight="normal" letter-spacing="-0.378">16 Jan 00:00</text>
<rect x="137" y="780" width="1" height="3" fill="#000"/>
<text x="136" y="792.01" font-size="9.8" fill="#000" stroke="#000" text-anchor="start" font-weight="normal" letter-spacing="-0.378">16 Jan 16:00</text>
<rect x="201" y="780" width="1" height="3" fill="#000"/>
<text x="200" y="792.01" font-size="9.8" fill="#000" stroke="#000" text-anchor="start" font-weight="normal" letter-spacing="-0.378">17 Jan 08:00</text>
<rect x="265" y="780" width="1" height="3" fill="#000"/>
<text x="264" y="792.01" font-size="9.8" fill="#000" stroke="#000" text-anchor="start" font-weight="normal" letter-spacing="-0.378">18 Jan 00:00</text>
<rect x="329" y="780" width="1" height="3" fill="#000"/>
<text x="328" y="792.01" font-size="9.8" fill="#000" stroke="#000" text-anchor="start" font-weight="normal" letter-spacing="-0.378">18 Jan 16:00</text>
<rect x="393" y="780" width="1" height="3" fill="#000"/>
<text x="392" y="792.01" font-size="9.8" fill="#000" stroke="#000" text-anchor="start" font-weight="normal" letter-spacing="-0.378">21 Jan 04:00</text>
<rect x="457" y="780" width="1" height="3" fill="#000"/>
<text x="456" y="792.01" font-size="9.8" fill="#000" stroke="#000" text-anchor="start" font-weight="normal" letter-spacing="-0.378">21 Jan 23:00</text>
<rect x="521" y="780" width="1" height="3" fill="#000"/>
<text x="520" y="792.01" font-size="9.8" fill="#000" stroke="#000" text-anchor="start" font-weight="normal" letter-spacing="-0.378">22 Jan 12:00</text>
<rect x="585" y="780" width="1" height="3" fill="#000"/>
<text x="584" y="792.01" font-size="9.8" fill="#000" stroke="#000" text-anchor="start" font-weight="normal" letter-spacing="-0.378">23 Jan 04:00</text>
<rect x="649" y="780" width="1" height="3" fill="#000"/>
<text x="648" y="792.01" font-size="9.8" fill="#000" stroke="#000" text-anchor="start" font-weight="normal" letter-spacing="-0.378">23 Jan 20:00</text>
<rect x="713" y="780" width="1" height="3" fill="#000"/>
<text x="712" y="792.01" font-size="9.8" fill="#000" stroke="#000" text-anchor="start" font-weight="normal" letter-spacing="-0.378">24 Jan 12:00</text>
<rect x="777" y="780" width="1" height="3" fill="#000"/>
<text x="776" y="792.01" font-size="9.8" fill="#000" stroke="#000" text-anchor="start" font-weight="normal" letter-spacing="-0.378">25 Jan 04:00</text>
<rect x="841" y="780" width="1" height="3" fill="#000"/>
<text x="840" y="792.01" font-size="9.8" fill="#000" stroke="#000" text-anchor="start" font-weight="normal" letter-spacing="-0.378">25 Jan 20:00</text>
<rect x="905" y="780" width="1" height="3" fill="#000"/>
<text x="904" y="792.01" font-size="9.8" fill="#000" stroke="#000" text-anchor="start" font-weight="normal" letter-spacing="-0.378">28 Jan 08:00</text>
<rect x="969" y="780" width="1" height="3" fill="#000"/>
<text x="968" y="792.01" font-size="9.8" fill="#000" stroke="#000" text-anchor="start" font-weight="normal" letter-spacing="-0.378">29 Jan 00:00</text>
<rect x="1033" y="780" width="1" height="3" fill="#000"/>
<text x="1032" y="792.01" font-size="9.8" fill="#000" stroke="#000" text-anchor="start" font-weight="normal" letter-spacing="-0.378">29 Jan 16:00</text>
<rect x="1097" y="780" width="1" height="3" fill="#000"/>
<text x="1096" y="792.01" font-size="9.8" fill="#000" stroke="#000" text-anchor="start" font-weight="normal" letter-spacing="-0.378">30 Jan 08:00</text>
<rect x="1161" y="780" width="1" height="3" fill="#000"/>
<text x="1160" y="792.01" font-size="9.8" fill="#000" stroke="#000" text-anchor="start" font-weight="normal" letter-spacing="-0.378">31 Jan 00:00</text>
<rect x="1225" y="780" width="1" height="3" fill="#000"/>
<text x="1224" y="792.01" font-size="9.8" fill="#000" stroke="#000" text-anchor="start" font-weight="normal" letter-spacing="-0.378">31 Jan 16:00</text>
<rect x="1289" y="780" width="1" height="3" fill="#000"/>
<text x="1288" y="792.01" font-size="9.8" fill="#000" stroke="#000" text-anchor="start" font-weight="normal" letter-spacing="-0.214">1 Feb 08:00</text>
<rect x="1353" y="780" width="1" height="3" fill="#000"/>
<text x="1352" y="792.01" font-size="9.8" fill="#000" stroke="#000" text-anchor="start" font-weight="normal" letter-spacing="-0.214">3 Feb 23:00</text>
<rect x="1417" y="780" width="1" height="3" fill="#000"/>
<text x="1416" y="792.01" font-size="9.8" fill="#000" stroke="#000" text-anchor="start" font-weight="normal" letter-spacing="-0.214">4 Feb 12:00</text>
<rect x="1481" y="780" width="1" height="3" fill="#000"/>
<text x="1480" y="792.01" font-size="9.8" fill="#000" stroke="#000" text-anchor="start" font-weight="normal" letter-spacing="-0.214">5 Feb 04:00</text>
<rect x="1545" y="780" width="1" height="3" fill="#000"/>
<text x="1544" y="792.01" font-size="9.8" fill="#000" stroke="#000" text-anchor="start" font-weight="normal" letter-spacing="-0.214">5 Feb 20:00</text>
<rect x="1609" y="780" width="1" height="3" fill="#000"/>
<text x="1608" y="792.01" font-size="9.8" fill="#000" stroke="#000" text-anchor="start" font-weight="normal" letter-spacing="-0.214">6 Feb 12:00</text>
<rect x="1673" y="780" width="1" height="3" fill="#000"/>
<text x="1672" y="792.01" font-size="9.8" fill="#000" stroke="#000" text-anchor="start" font-weight="normal" letter-spacing="-0.214">7 Feb 04:00</text>
<rect x="1737" y="780" width="1" height="3" fill="#000"/>
<text x="1736" y="792.01" font-size="9.8" fill="#000" stroke="#000" text-anchor="start" font-weight="normal" letter-spacing="-0.214">7 Feb 20:00</text>
<rect x="1801" y="780" width="1" height="3" fill="#000"/>
<text x="1800" y="792.01" font-size="9.8" fill="#000" stroke="#000" text-anchor="start" font-weight="normal" letter-spacing="-0.214">8 Feb 12:00</text>
<path d="M12,42.3 L15.6,37.6 L19.2,42.3 Z" fill="#000" shape-rendering="auto"/>
<text x="24.6" y="43.01" font-size="9.8" fill="#000" stroke="#000" text-anchor="start" font-weight="normal" letter-spacing="-0.245">USOil-,H4</text>
<text x="73.2" y="43.01" font-size="9.8" fill="#000" stroke="#000" text-anchor="start" font-weight="normal" letter-spacing="-0.269">52.680 52.710 52.610 52.680</text>
<text x="13" y="709.71" font-size="9.8" fill="#000" stroke="#000" text-anchor="start" font-weight="normal" letter-spacing="-0.197">MACD(12,26,9) -0.4379 -0.3975</text>
</g>
<text x="1653.4" y="100.8" font-size="21" font-weight="300" fill="#FF0000" font-family='"Liberation Sans", "Noto Sans CJK SC", sans-serif' shape-rendering="auto">多空转折点<tspan font-size="22.3" font-weight="400" letter-spacing="-0.95">52.7</tspan></text></svg>
<div class="tb">
<span style="left:136.6px">M1</span><span style="left:164px">M5</span><span style="left:190px">M15</span><span style="left:218px">M30</span><span style="left:249px">H1</span><span style="left:276px">H4</span><span style="left:305px">D1</span><span style="left:332px">W1</span><span style="left:359px">MN</span>
</div>
<div class="panel">
 <div class="blk" style="left:0;top:0;width:52px;height:64px;background-size:100% 64px"></div>
 <div class="blk" style="left:167px;top:0;width:52px;height:64px"></div>
 <div class="blk" style="left:0;top:24px;width:109px;height:40px;background-position:0 -24px;background-size:100% 64px"></div>
 <div class="blk" style="left:111px;top:24px;width:108px;height:40px;background-position:0 -24px;background-size:100% 64px"></div>
 <div style="position:absolute;left:4px;top:23px;width:44px;height:1px;background:#8c8cff"></div>
 <div style="position:absolute;left:171px;top:23px;width:44px;height:1px;background:#8c8cff"></div>
 <div class="lbl" style="left:12.5px;top:5.6px;font-size:10.7px">SELL</div>
 <div class="lbl" style="left:180.5px;top:5.6px">BUY</div>
 <div style="position:absolute;left:54px;top:0;width:111px;height:22px;background:#fff;border:1px solid #a9a9a9;box-sizing:border-box"></div>
 <div style="position:absolute;left:55px;top:1px;width:20px;height:20px;background:linear-gradient(#f4f4f4,#d4d4d4);border:1px solid #c8c8c8;box-sizing:border-box"></div>
 <div style="position:absolute;left:144px;top:1px;width:20px;height:20px;background:linear-gradient(#f4f4f4,#d4d4d4);border:1px solid #c8c8c8;box-sizing:border-box"></div>
 <div style="position:absolute;left:63px;top:9px;width:0;height:0;border-left:2.5px solid transparent;border-right:2.5px solid transparent;border-top:3px solid #5566bb"></div>
 <div style="position:absolute;left:152px;top:9px;width:0;height:0;border-left:2.5px solid transparent;border-right:2.5px solid transparent;border-bottom:3px solid #5566bb"></div>
 <div style="position:absolute;left:79.5px;top:4.3px;width:60px;text-align:right;color:#000;font-size:11.3px;line-height:13px">1.00</div>
 <div class="sm" style="left:30.5px;top:45px">52</div>
 <div class="big" style="left:47.8px;top:26.2px">68</div>
 <div class="sup" style="left:86.8px;top:28.8px">0</div>
 <div class="sm" style="left:140.5px;top:45px">52</div>
 <div class="big" style="left:158.3px;top:26.2px">74</div>
 <div class="sup" style="left:197.6px;top:28.8px">0</div>
</div>
</div>
</body>
</html>
